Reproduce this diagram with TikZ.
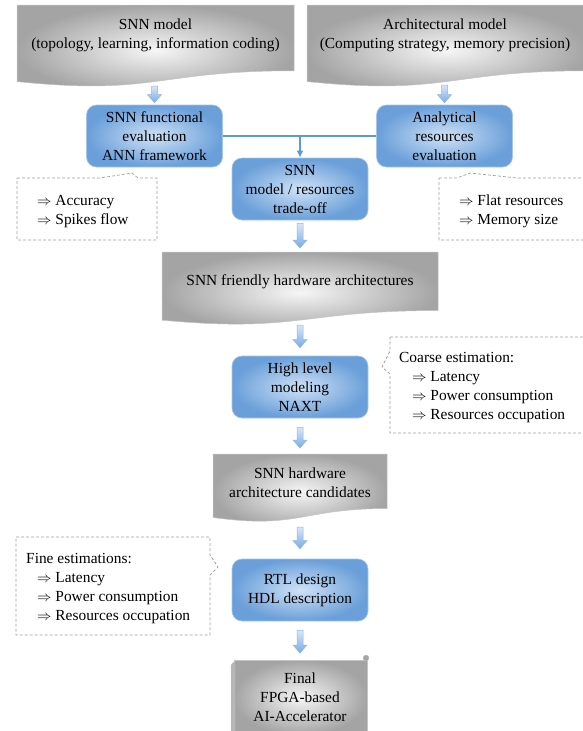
\documentclass[tikz,border=0pt]{standalone}
\usepackage{fontspec}
\setmainfont{Liberation Serif}
\usetikzlibrary{calc,arrows.meta}
\pgfdeclarelayer{bg}
\pgfsetlayers{bg,main}
\definecolor{bluein}{HTML}{CFE2F6}
\definecolor{blueout}{HTML}{6A9FD9}
\definecolor{blueedge}{HTML}{A3C6EA}
\definecolor{grayin}{HTML}{F6F6F6}
\definecolor{grayout}{HTML}{A4A4A4}
\definecolor{grayedge}{HTML}{C4C4C4}
\definecolor{dashgray}{HTML}{9E9E9E}
\definecolor{linkblue}{HTML}{5B9BD5}
\definecolor{arrtop}{HTML}{D8E7F8}
\definecolor{arrbot}{HTML}{78ABE4}
\definecolor{arredge}{HTML}{8FB6E4}
\newcommand{\barrow}[2]{%
  \path let \p1=#1, \p2=#2 in [blockarrow]
    (\x1-3pt,\y1) -- (\x1+3pt,\y1) -- (\x1+3pt,\y2+8pt) -- (\x1+7pt,\y2+8pt)
    -- (\x1,\y2) -- (\x1-7pt,\y2+8pt) -- (\x1-3pt,\y2+8pt) -- cycle;}
\newcommand{\docpath}[4]{%
  \path[docshape] (#1,#3) -- (#2,#3) -- (#2,{#3+0.802*#4})
    .. controls ({(#1+#2)/2},{#3+0.802*#4}) and ({(#1+#2)/2},{#3+1.107*#4}) ..
    (#1,{#3+0.934*#4}) -- cycle;}
\newcommand{\ra}{$\Rightarrow$}
\begin{document}
\begin{tikzpicture}[x=1pt,y=-1pt,
  font=\fontsize{15.4}{19}\selectfont,
  bluebox/.style={rounded corners=10pt, shade, inner color=bluein, outer color=blueout,
    draw=blueedge, line width=0.6pt, minimum width=136pt, minimum height=62pt,
    align=center, inner sep=0pt},
  doctext/.style={align=center, inner sep=0pt},
  docshape/.style={shade, inner color=grayin, outer color=grayout, draw=grayedge, line width=0.5pt},
  callout/.style={draw=dashgray, dashed, dash pattern=on 3pt off 2pt, line width=0.7pt},
  calltext/.style={align=left, anchor=base west, inner sep=0pt},
  blockarrow/.style={top color=arrtop, bottom color=arrbot, draw=arredge, line width=0.5pt},
  link/.style={draw=linkblue, line width=1.5pt}
]
\useasboundingbox (0,0) rectangle (583,731);

% ---------- text nodes ----------
\node[doctext] (snnmodel) at (155.5,35) {SNN model\\(topology, learning, information coding)};
\node[doctext] (archmodel) at (445,35) {Architectural model\\(Computing strategy, memory precision)};

\node[bluebox] (eval) at (154.5,136) {SNN functional\\evaluation\\ANN framework};
\node[bluebox] (anal) at (444.5,136) {Analytical\\resources\\evaluation};
\node[bluebox] (trade) at (300,189) {SNN\\model / resources\\trade-off};

\node[doctext] (friendly) at (300,282) {SNN friendly hardware architectures};
\node[bluebox] (high) at (300,387) {High level\\modeling\\NAXT};
\node[doctext] (cand) at (300,483) {SNN hardware\\architecture candidates};
\node[bluebox] (rtl) at (300,590) {RTL design\\HDL description};
\node[doctext] (final) at (300,697) {Final\\FPGA-based\\AI-Accelerator};

% ---------- callouts ----------
\path[callout] (17,178) -- (100,178) -- (132,173) -- (138,178) -- (157,178)
  -- (157,240) -- (17,240) -- cycle;
\node[calltext] (acc) at (37,224) {\ra\ Accuracy\\\ra\ Spikes flow};

\path[callout] (439,178) -- (457,178) -- (470,173) -- (517,178) -- (585,178)
  -- (585,240) -- (439,240) -- cycle;
\node[calltext] (flat) at (459,224) {\ra\ Flat resources\\\ra\ Memory size};

\path[callout] (390,337) -- (585,337) -- (585,433) -- (390,433) -- (390,374)
  -- (382,367) -- (390,351) -- cycle;
\node[calltext] (coarse) at (399,419) {Coarse estimation:\\\hspace*{13pt}\ra\ Latency\\\hspace*{13pt}\ra\ Power consumption\\\hspace*{13pt}\ra\ Resources occupation};

\path[callout] (16,537) -- (210,537) -- (210,555) -- (218,567) -- (210,575)
  -- (210,635) -- (16,635) -- cycle;
\node[calltext] (fine) at (26,620) {Fine estimations:\\\hspace*{11pt}\ra\ Latency\\\hspace*{11pt}\ra\ Power consumption\\\hspace*{11pt}\ra\ Resources occupation};

% ---------- background shapes ----------
\begin{pgfonlayer}{bg}
  \docpath{17}{294}{5}{82}
  \docpath{307}{587}{5}{82}
  \docpath{162}{438}{252}{73}
  \docpath{213}{387}{454}{68}
  % scroll
  \path[docshape] (234,660) -- (367,660) -- (367,735) -- (234,735) -- cycle;
  \path[fill=grayout!80, draw=grayedge, line width=0.4pt] (231,665) -- (235,661) -- (235,735) -- (231,735) -- cycle;
  \path[fill=gray!70, draw=grayedge, line width=0.4pt] (366,658) circle (3pt);
  \path[fill=gray!60] (234,664) circle (1.3pt);
\end{pgfonlayer}

% named ends for block arrows
\coordinate (snnbot) at (154.5,86);
\coordinate (archbot) at (444.5,85);
\coordinate (friendtop) at (300,252);
\coordinate (friendbot) at (300,325);
\coordinate (candtop) at (300,454);
\coordinate (candbot) at (300,527);
\coordinate (finaltop) at (300,657);

% ---------- connectors ----------
\barrow{(snnbot)}{($(eval.north)+(0,-2)$)}
\barrow{(archbot)}{($(anal.north)+(0,-2)$)}
\draw[link] (eval.east) -- (anal.west);
\draw[link,-{Latex[length=7pt,width=7pt]}] (eval.east -| trade.north) -- (trade.north);
\barrow{($(trade.south)+(0,3)$)}{($(friendtop)+(0,-4)$)}
\barrow{(friendbot)}{($(high.north)+(0,-8)$)}
\barrow{($(high.south)+(0,9)$)}{($(candtop)+(0,-6)$)}
\barrow{(candbot)}{($(rtl.north)+(0,-10)$)}
\barrow{($(rtl.south)+(0,9)$)}{($(finaltop)+(0,-4)$)}
\end{tikzpicture}
\end{document}
